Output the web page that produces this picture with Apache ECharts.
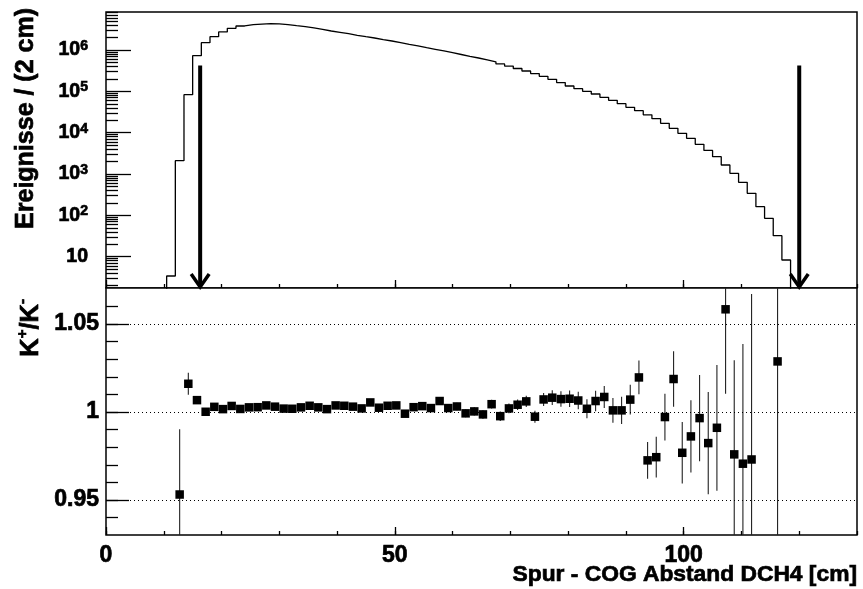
<!DOCTYPE html>
<html><head><meta charset="utf-8">
<script src="https://cdn.jsdelivr.net/npm/echarts@6/dist/echarts.min.js"></script>
<style>html,body{margin:0;padding:0;background:#fff}#c{width:863px;height:589px}</style>
</head><body><div id="c"></div>
<script>
// ---- histogram (upper pad): lower bin edges and contents, bin width 1.5 ----
const binWidth = 1.5;
const binLowEdges = [10.5,12,13.5,15,16.5,18,19.5,21,22.5,24,25.5,27,28.5,30,31.5,33,34.5,36,37.5,39,
  40.5,42,43.5,45,46.5,48,49.5,51,52.5,54,55.5,57,58.5,60,61.5,63,64.5,66,67.5,69,
  70.5,72,73.5,75,76.5,78,79.5,81,82.5,84,85.5,87,88.5,90,91.5,93,94.5,96,97.5,99,
  100.5,102,103.5,105,106.5,108,109.5,111,112.5,114,115.5,117];
const binCounts = [3.4,2100,82900,728000,1.50e6,2.10e6,2.73e6,3.35e6,3.81e6,4.10e6,4.24e6,4.33e6,4.28e6,4.12e6,3.87e6,3.66e6,3.41e6,3.17e6,2.88e6,2.68e6,
  2.48e6,2.27e6,2.10e6,1.95e6,1.775e6,1.65e6,1.50e6,1.36e6,1.25e6,1.137e6,1.04e6,9.46e5,8.60e5,7.78e5,7.04e5,6.40e5,5.76e5,5.18e5,4.61e5,4.08e5,
  3.57e5,3.10e5,2.69e5,2.31e5,1.955e5,1.626e5,1.346e5,1.158e5,1.002e5,8.62e4,7.17e4,6.07e4,5.02e4,4.11e4,3.40e4,2.70e4,2.18e4,1.68e4,1.27e4,9640,
  7300,5230,3720,2620,1650,1040,630,341,162,84.7,32.1,8.3];
const cutPositions = [16.3, 120];
const cutArrowTop = 4.2e5;

// ---- ratio K+/K- (lower pad) ----
const ratioX = [12.75,14.25,15.75,17.25,18.75,20.25,21.75,23.25,24.75,26.25,27.75,29.25,30.75,32.25,33.75,35.25,36.75,38.25,39.75,41.25,
  42.75,44.25,45.75,47.25,48.75,50.25,51.75,53.25,54.75,56.25,57.75,59.25,60.75,62.25,63.75,65.25,66.75,68.25,69.75,71.25,
  72.75,74.25,75.75,77.25,78.75,80.25,81.75,83.25,84.75,86.25,87.75,89.25,90.75,92.25,93.75,95.25,96.75,98.25,99.75,101.25,
  102.75,104.25,105.75,107.25,108.75,110.25,111.75,116.25];
const ratioY = [0.9532,1.0161,1.0068,1.0002,1.0030,1.0017,1.0035,1.0018,1.0027,1.0028,1.0038,1.0031,1.0020,1.0019,1.0027,1.0036,1.0027,1.0017,1.0038,1.0036,
  1.0031,1.0021,1.0055,1.0025,1.0036,1.0038,0.9991,1.0028,1.0034,1.0023,1.0063,1.0023,1.0032,0.9993,1.0004,0.9987,1.0045,0.9977,1.0021,1.0042,
  1.0061,0.9974,1.0072,1.0082,1.0074,1.0076,1.0066,1.0019,1.0063,1.0086,1.0010,1.0010,1.0071,1.0197,0.9726,0.9744,0.9972,1.0188,0.9769,0.9862,
  0.9966,0.9824,0.9911,1.0584,0.9760,0.9707,0.9731,1.0288];
const ratioErr = [0.037,0.0062,0.0020,0.0014,0.0012,0.0010,0.0009,0.0009,0.0008,0.0008,0.0008,0.0008,0.0008,0.0009,0.0009,0.0009,0.0010,0.0010,0.0011,0.0011,
  0.0012,0.0012,0.0013,0.0013,0.0014,0.0015,0.0015,0.0016,0.0017,0.0018,0.0019,0.0020,0.0021,0.0022,0.0023,0.0024,0.0025,0.0027,0.0028,0.0030,
  0.0032,0.0034,0.0037,0.0042,0.0044,0.0047,0.0050,0.0054,0.0058,0.0063,0.0070,0.0077,0.0085,0.0096,0.0104,0.0116,0.0133,0.0158,0.0175,0.0205,
  0.0245,0.0290,0.0357,0.0480,0.0534,0.0680,0.0940,0.1200];

// ---- ticks ----
const xMinorTicks = [0,10,20,30,40,50,60,70,80,90,100,110,120,130];
const xMajorTicks = [0,50,100];
const yTopMajorTicks = [10,100,1000,10000,100000,1000000];
const yTopMinorTicks = [2,3,4,5,6,7,8,9,20,30,40,50,60,70,80,90,200,300,400,500,600,700,800,900,
  2000,3000,4000,5000,6000,7000,8000,9000,2e4,3e4,4e4,5e4,6e4,7e4,8e4,9e4,2e5,3e5,4e5,5e5,6e5,7e5,8e5,9e5,
  2e6,3e6,4e6,5e6,6e6,7e6,8e6];
const yLowMajorTicks = [0.95,1,1.05];
const yLowMinorTicks = [0.94,0.95,0.96,0.97,0.98,0.99,1,1.01,1.02,1.03,1.04,1.05,1.06];

const FONT = '"Liberation Sans", Arial, Helvetica, sans-serif';
const histFloor = 1; // below axis minimum -> clipped drop lines
const histData = [[binLowEdges[0], histFloor]];
binLowEdges.forEach((e, i) => histData.push([e, binCounts[i]]));
histData.push([binLowEdges[binLowEdges.length - 1] + binWidth, histFloor]);

const ratioData = ratioX.map((x, i) => [x, ratioY[i], ratioErr[i]]);

const chart = echarts.init(document.getElementById('c'), null, {renderer: 'canvas'});
const tickStyle = {color: '#000', width: 1.3};
const hidden = {show: false};
const heavy = {textBorderColor: '#000', textBorderWidth: 0.7};

function xAx(grid, list, len, labels) {
  return {type: 'value', gridIndex: grid, min: 0, max: 130, position: 'bottom',
    axisLine: hidden, splitLine: hidden,
    axisTick: {show: true, inside: true, length: len, customValues: list, lineStyle: tickStyle},
    axisLabel: labels ? Object.assign({show: true, customValues: xMajorTicks, margin: 9, color: '#000',
      fontFamily: FONT, fontWeight: 'bold', fontSize: 23}, heavy) : hidden};
}
function yTop(list, len, labels) {
  return {type: 'log', logBase: 10, gridIndex: 0, min: 1.744, max: 8.3e6, position: 'left',
    axisLine: hidden, splitLine: hidden, minorTick: hidden,
    axisTick: {show: true, inside: true, length: len, customValues: list, lineStyle: tickStyle},
    axisLabel: labels ? {show: true, customValues: yTopMajorTicks, margin: 18, color: '#000',
      formatter: v => { const e = Math.round(Math.log10(v)); return e === 1 ? '{b|10}' : '{b|10}{s|' + e + '}'; },
      rich: {b: Object.assign({fontFamily: FONT, fontWeight: 'bold', fontSize: 19.5, color: '#000', lineHeight: 22}, heavy),
             s: Object.assign({fontFamily: FONT, fontWeight: 'bold', fontSize: 14, color: '#000', verticalAlign: 'top', lineHeight: 22}, heavy)}} : hidden};
}
function yLow(list, len, labels) {
  return {type: 'value', gridIndex: 1, min: 0.9302, max: 1.0705, position: 'left',
    axisLine: hidden, splitLine: hidden,
    axisTick: {show: true, inside: true, length: len, customValues: list, lineStyle: tickStyle},
    axisLabel: labels ? Object.assign({show: true, customValues: yLowMajorTicks, margin: 7, color: '#000',
      fontFamily: FONT, fontWeight: 'bold', fontSize: 23,
      formatter: v => String(+(+v).toFixed(2))}, heavy) : hidden};
}

chart.setOption({
  animation: false,
  backgroundColor: '#fff',
  grid: [
    {left: 106, top: 12, width: 751, height: 276, show: true, borderColor: '#000', borderWidth: 1.5, backgroundColor: '#fff', containLabel: false, outerBoundsMode: 'none'},
    {left: 106, top: 288, width: 751, height: 247, show: true, borderColor: '#000', borderWidth: 1.5, backgroundColor: '#fff', containLabel: false, outerBoundsMode: 'none'}
  ],
  xAxis: [xAx(0, xMinorTicks, 4, false), xAx(0, xMajorTicks, 8, false), xAx(1, xMinorTicks, 4, true), xAx(1, xMajorTicks, 8, false)],
  yAxis: [yTop(yTopMinorTicks, 12, false), yTop(yTopMajorTicks, 25, true), yLow(yLowMinorTicks, 12, false), yLow(yLowMajorTicks, 23, true)],
  graphic: [
    {type: 'text', x: 26, y: 8, rotation: Math.PI / 2, silent: true,
     style: {text: 'Ereignisse / (2 cm)', fontFamily: FONT, fontWeight: 'bold', fontSize: 25, fill: '#000',
             stroke: '#000', lineWidth: 0.7,
             align: 'right', verticalAlign: 'middle', textAlign: 'right', textVerticalAlign: 'middle'}},
    {type: 'text', x: 31, y: 299, rotation: Math.PI / 2, silent: true,
     style: {text: '{m|K}{s|+}{m|/K}{s|-}', fill: '#000', stroke: '#000', lineWidth: 0.7,
             align: 'right', verticalAlign: 'middle', textAlign: 'right', textVerticalAlign: 'middle',
             rich: {m: {fontFamily: FONT, fontWeight: 'bold', fontSize: 25.5, fill: '#000', lineHeight: 32},
                    s: {fontFamily: FONT, fontWeight: 'bold', fontSize: 15, fill: '#000', verticalAlign: 'top', lineHeight: 32}}}},
    {type: 'text', x: 857, y: 575, silent: true,
     style: {text: 'Spur - COG Abstand DCH4 [cm]', fontFamily: FONT, fontWeight: 'bold', fontSize: 22.8, fill: '#000',
             stroke: '#000', lineWidth: 0.7,
             align: 'right', verticalAlign: 'middle', textAlign: 'right', textVerticalAlign: 'middle'}}
  ],
  series: [
    {type: 'line', xAxisIndex: 0, yAxisIndex: 0, data: histData, step: 'end', symbol: 'none', showSymbol: false,
     clip: true, lineStyle: {color: '#000', width: 1.3}, z: 3},
    {type: 'custom', xAxisIndex: 0, yAxisIndex: 0, data: cutPositions.map(c => [c, cutArrowTop]), clip: false, z: 4,
     renderItem: (params, api) => {
       const top = api.coord([api.value(0), api.value(1)]);
       const cs = params.coordSys; const yb = cs.y + cs.height;
       return {type: 'group', children: [
         {type: 'line', shape: {x1: top[0], y1: top[1], x2: top[0], y2: yb - 2}, style: {stroke: '#000', lineWidth: 4}},
         {type: 'polyline', shape: {points: [[top[0] - 9, yb - 14], [top[0], yb - 1], [top[0] + 9, yb - 14]]},
          style: {stroke: '#000', lineWidth: 3.5, fill: null}}
       ]};
     }},
    {type: 'custom', xAxisIndex: 2, yAxisIndex: 2, data: ratioData, clip: true, z: 3,
     renderItem: (params, api) => {
       const x = api.value(0), y = api.value(1), e = api.value(2);
       const cs = params.coordSys;
       const p1 = api.coord([x, y - e]), p2 = api.coord([x, y + e]);
       const lo = Math.min(Math.max(p1[1], cs.y), cs.y + cs.height);
       const hi = Math.min(Math.max(p2[1], cs.y), cs.y + cs.height);
       return {type: 'line', shape: {x1: p1[0], y1: lo, x2: p1[0], y2: hi}, style: {stroke: '#222', lineWidth: 1.1}};
     }},
    {type: 'scatter', xAxisIndex: 2, yAxisIndex: 2, data: ratioData.map(d => [d[0], d[1]]), symbol: 'rect', symbolSize: 8.5,
     itemStyle: {color: '#000', opacity: 1}, z: 5, silent: true,
     markLine: {silent: true, symbol: ['none', 'none'], label: hidden, animation: false,
       lineStyle: {type: [1, 3], color: '#000', width: 1}, emphasis: {disabled: true},
       data: yLowMajorTicks.map(v => ({yAxis: v}))}}
  ]
});
</script></body></html>
